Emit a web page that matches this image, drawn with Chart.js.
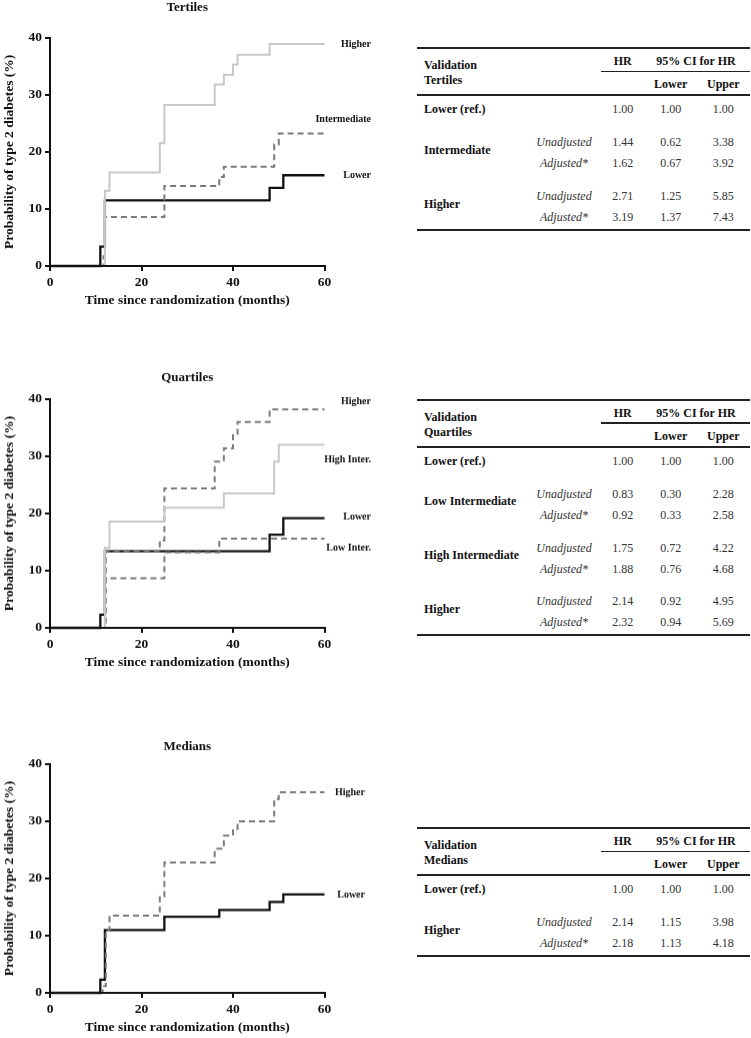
<!DOCTYPE html>
<html>
<head>
<meta charset="utf-8">
<script src="https://cdn.jsdelivr.net/npm/chart.js@4"></script>
<style>
  html, body { margin: 0; padding: 0; background: #fff; }
  #page { position: relative; width: 751px; height: 1038px; overflow: hidden; font-family: "Liberation Serif", "Times New Roman", serif; }
  .chartBox { position: absolute; left: 0; width: 400px; }
  .t { position: absolute; white-space: nowrap; font-size: 12px; line-height: 14px; height: 14px; }
  .b { font-weight: bold; color: #111; }
  .n { color: #333; transform: translateX(-50%); }
  .i { font-style: italic; color: #333; transform: translateX(-50%); }
  .c { transform: translateX(-50%); }
  .rule { position: absolute; background: #222; }
</style>
</head>
<body>
<div id="page"></div>
<script>
// ---------------- DATA ----------------
// Kaplan–Meier style cumulative incidence (%), points [month, %]
const tertLower        = [[0,0],[11,3.4],[12,11.5],[48,13.7],[51,15.9],[60,15.9]];
const tertIntermediate = [[0,0],[11.7,1.7],[12,8.6],[25,14.0],[37,15.6],[38,17.4],[49,21.3],[50,23.2],[60,23.2]];
const tertHigher       = [[0,0],[12,13.2],[13,16.4],[24,21.5],[25,28.2],[36,31.8],[38,33.5],[40,35.3],[41,37.0],[48,38.9],[60,38.9]];

const quarLower        = [[0,0],[11,2.3],[12,13.4],[48,16.3],[51,19.2],[60,19.2]];
const quarLowInter     = [[0,0],[12,8.7],[25,13.2],[37,15.6],[60,15.6]];
const quarHighInter    = [[0,0],[12,14.0],[13,18.6],[25,21.0],[38,23.5],[49,29.1],[50,32.0],[60,32.0]];
const quarHigher       = [[0,0],[12.2,13.4],[24,15.3],[25,24.4],[36,29.1],[38,31.4],[40,33.7],[41,36.0],[48,38.2],[60,38.2]];

const medLower         = [[0,0],[11,2.3],[12,11.0],[25,13.3],[37,14.5],[48,15.9],[51,17.2],[60,17.2]];
const medHigher        = [[0,0],[11.5,1.2],[12.2,11.0],[13,13.5],[24,16.9],[25,22.8],[36,25.2],[38,27.5],[40,28.7],[41,30.0],[49,33.9],[50,35.1],[60,35.1]];

// End-of-curve label anchors (value on the y axis)
const tertLabels = [['Higher',38.75],['Intermediate',25.6],['Lower',15.85]];
const quarLabels = [['Higher',39.65],['High Inter.',29.47],['Lower',19.35],['Low Inter.',13.98]];
const medLabels  = [['Higher',34.94],['Lower',17.15]];

const yTicks = [0,10,20,30,40];
const xTicks = [0,20,40,60];

// Tables
const tertRef    = [1.00,1.00,1.00];
const tertGroups = ['Intermediate','Higher'];
const tertUnadj  = [[1.44,0.62,3.38],[2.71,1.25,5.85]];
const tertAdj    = [[1.62,0.67,3.92],[3.19,1.37,7.43]];

const quarRef    = [1.00,1.00,1.00];
const quarGroups = ['Low Intermediate','High Intermediate','Higher'];
const quarUnadj  = [[0.83,0.30,2.28],[1.75,0.72,4.22],[2.14,0.92,4.95]];
const quarAdj    = [[0.92,0.33,2.58],[1.88,0.76,4.68],[2.32,0.94,5.69]];

const medRef     = [1.00,1.00,1.00];
const medGroups  = ['Higher'];
const medUnadj   = [[2.14,1.15,3.98]];
const medAdj     = [[2.18,1.13,4.18]];

// ---------------- STYLES ----------------
const SERIF = '"Liberation Serif", "Times New Roman", serif';
const BLACK = '#111111', DASHGRAY = '#7a7a7a', LIGHTGRAY = '#c8c8c8';
const page = document.getElementById('page');

const kmText = {
  id: 'kmText',
  afterDraw(chart, args, opts) {
    const {ctx, chartArea, scales} = chart;
    ctx.save();
    ctx.fillStyle = '#111';
    ctx.textBaseline = 'middle';
    ctx.textAlign = 'center';
    ctx.font = 'bold 13px ' + SERIF;
    ctx.fillText(opts.title, (chartArea.left + chartArea.right) / 2, chartArea.top - opts.titleGap);
    ctx.font = 'bold 10px ' + SERIF;
    ctx.textAlign = 'right';
    opts.labels.forEach(([txt, v]) => {
      ctx.fillText(txt, chartArea.right + opts.labelRight, scales.y.getPixelForValue(v));
    });
    ctx.restore();
  }
};

function ds(points, color, dashed, width) {
  return {
    data: points.map(p => ({x: p[0], y: p[1]})),
    borderColor: color,
    borderWidth: width,
    borderDash: dashed ? [6, 4] : [],
    stepped: true,
    pointRadius: 0,
    fill: false,
    tension: 0,
    clip: 4
  };
}

function makeChart(top, padTop, title, titleGap, labelRight, labels, datasets) {
  const box = document.createElement('div');
  box.className = 'chartBox';
  box.style.top = top + 'px';
  const H = padTop + 228.5 + 45;
  box.style.height = H + 'px';
  const cv = document.createElement('canvas');
  cv.width = 400; cv.height = H;
  cv.style.width = '400px'; cv.style.height = H + 'px';
  box.appendChild(cv);
  page.appendChild(box);
  new Chart(cv, {
    type: 'line',
    data: { datasets },
    plugins: [kmText],
    options: {
      responsive: false,
      animation: false,
      devicePixelRatio: 1,
      layout: { padding: { top: padTop, right: 75.5, left: 0, bottom: 0 } },
      plugins: {
        legend: { display: false },
        tooltip: { enabled: false },
        title: { display: false },
        kmText: { title, titleGap, labelRight, labels }
      },
      scales: {
        x: {
          type: 'linear', min: 0, max: 60,
          afterBuildTicks: s => { s.ticks = xTicks.map(v => ({value: v})); },
          afterFit: s => { s.height = 45; },
          border: { display: true, color: BLACK, width: 2, z: 2 },
          grid: { display: true, drawOnChartArea: false, drawTicks: true, tickLength: 5, color: BLACK, lineWidth: 2, z: 1 },
          ticks: { color: '#111', padding: 3, font: { family: SERIF, size: 13.5, weight: 'bold' }, maxRotation: 0, z: 1 },
          title: { display: true, text: 'Time since randomization (months)', color: '#111',
                   font: { family: SERIF, size: 13.5, weight: 'bold' }, padding: { top: 0, bottom: 2.4 } }
        },
        y: {
          type: 'linear', min: 0, max: 40,
          afterBuildTicks: s => { s.ticks = yTicks.map(v => ({value: v})); },
          afterFit: s => { s.width = 50; },
          border: { display: true, color: BLACK, width: 2, z: 2 },
          grid: { display: true, drawOnChartArea: false, drawTicks: true, tickLength: 5, color: BLACK, lineWidth: 2, z: 1 },
          ticks: { color: '#111', padding: 3, font: { family: SERIF, size: 13.5, weight: 'bold' }, z: 1 },
          title: { display: true, text: 'Probability of type 2 diabetes (%)', color: '#111',
                   font: { family: SERIF, size: 13.5, weight: 'bold' }, padding: { top: 1, bottom: 0 } }
        }
      }
    }
  });
}

makeChart(0, 37.7, 'Tertiles', 30.4, 46.5, tertLabels, [
  ds(tertHigher, LIGHTGRAY, false, 2),
  ds(tertIntermediate, DASHGRAY, true, 2),
  ds(tertLower, BLACK, false, 2.3)
]);
makeChart(359, 40, 'Quartiles', 21.3, 46.5, quarLabels, [
  ds(quarHighInter, LIGHTGRAY, false, 2),
  ds(quarHigher, DASHGRAY, true, 2),
  ds(quarLowInter, DASHGRAY, true, 2),
  ds(quarLower, BLACK, false, 2.3)
]);
makeChart(724.3, 40, 'Medians', 17.3, 40.5, medLabels, [
  ds(medHigher, DASHGRAY, true, 2),
  ds(medLower, BLACK, false, 2.3)
]);

// ---------------- TABLES ----------------
const X_LABEL = 424, X_SUB = 564, X_HR = 622.7, X_LO = 670.7, X_UP = 723.3, X_CI = 696;
const T_LEFT = 417, T_RIGHT = 750;

function txt(s, x, yc, cls) {
  const d = document.createElement('div');
  d.className = 't ' + cls;
  d.textContent = s;
  d.style.left = x + 'px';
  d.style.top = (yc - 7) + 'px';
  page.appendChild(d);
}
function rule(x1, x2, y, h) {
  const d = document.createElement('div');
  d.className = 'rule';
  d.style.left = x1 + 'px';
  d.style.width = (x2 - x1) + 'px';
  d.style.top = (y - h / 2) + 'px';
  d.style.height = h + 'px';
  page.appendChild(d);
}
function vals(arr, yc) {
  [X_HR, X_LO, X_UP].forEach((x, k) => txt(arr[k].toFixed(2), x, yc, 'n'));
}
function makeTable(r0, subTitle, ref, groups, unadj, adj) {
  rule(T_LEFT, T_RIGHT, r0, 2);
  txt('Validation', X_LABEL, r0 + 16.5, 'b');
  txt(subTitle, X_LABEL, r0 + 32, 'b');
  txt('HR', X_HR, r0 + 13, 'b c');
  txt('95% CI for HR', X_CI, r0 + 13, 'b c');
  rule(601, T_RIGHT, r0 + 23.2, 1.6);
  txt('Lower', X_LO, r0 + 36, 'b c');
  txt('Upper', X_UP, r0 + 36, 'b c');
  rule(T_LEFT, T_RIGHT, r0 + 46.6, 2);
  txt('Lower (ref.)', X_LABEL, r0 + 61, 'b');
  vals(ref, r0 + 61);
  let last = 0;
  groups.forEach((g, i) => {
    const yu = r0 + 93.8 + 53.8 * i, ya = yu + 21;
    txt(g, X_LABEL, yu + 7.6, 'b');
    txt('Unadjusted', X_SUB, yu, 'i');
    txt('Adjusted*', X_SUB, ya, 'i');
    vals(unadj[i], yu);
    vals(adj[i], ya);
    last = ya;
  });
  rule(T_LEFT, T_RIGHT, last + 12.8, 2);
}
makeTable(48.3, 'Tertiles', tertRef, tertGroups, tertUnadj, tertAdj);
makeTable(400, 'Quartiles', quarRef, quarGroups, quarUnadj, quarAdj);
makeTable(828.3, 'Medians', medRef, medGroups, medUnadj, medAdj);
</script>
</body>
</html>
